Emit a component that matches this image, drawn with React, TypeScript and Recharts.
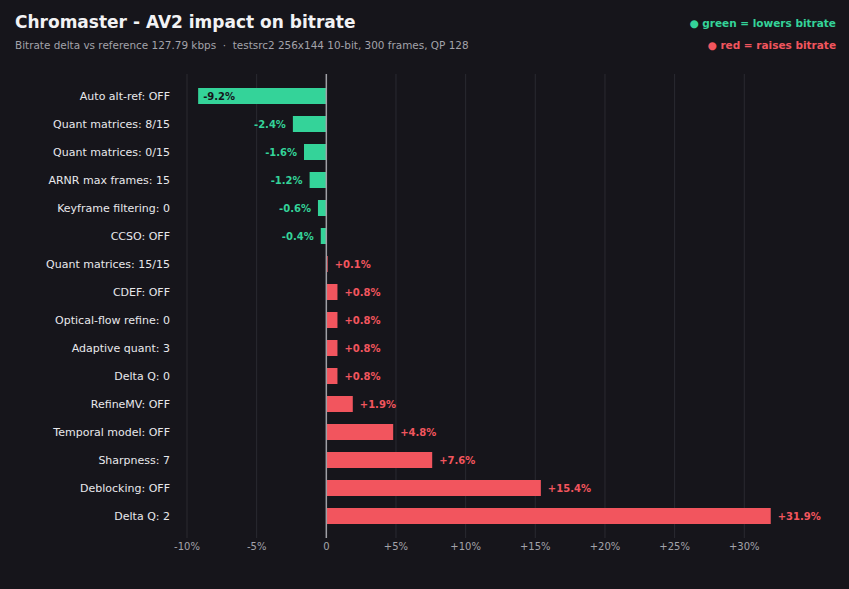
import { BarChart, Bar, XAxis, YAxis, CartesianGrid, ReferenceLine, Cell, LabelList } from "recharts";

const settings = [
  "Auto alt-ref: OFF",
  "Quant matrices: 8/15",
  "Quant matrices: 0/15",
  "ARNR max frames: 15",
  "Keyframe filtering: 0",
  "CCSO: OFF",
  "Quant matrices: 15/15",
  "CDEF: OFF",
  "Optical-flow refine: 0",
  "Adaptive quant: 3",
  "Delta Q: 0",
  "RefineMV: OFF",
  "Temporal model: OFF",
  "Sharpness: 7",
  "Deblocking: OFF",
  "Delta Q: 2",
];
const deltaPct = [-9.2, -2.4, -1.6, -1.2, -0.6, -0.4, 0.1, 0.8, 0.8, 0.8, 0.8, 1.9, 4.8, 7.6, 15.4, 31.9];
const xTicks = [-10, -5, 0, 5, 10, 15, 20, 25, 30];

const BG = "#16151b";
const GREEN = "#34d399";
const RED = "#f2555e";
const FONT = "'DejaVu Sans', sans-serif";

const data = settings.map((name, i) => ({ name, v: deltaPct[i] }));

const fmtTick = (v: number) => (v === 0 ? "0" : v > 0 ? `+${v}%` : `${v}%`);
const fmtVal = (v: number) => (v > 0 ? `+${v.toFixed(1)}%` : `${v.toFixed(1)}%`);

// value label: outside the bar end, except long negative bars get it inside
function ValueLabel(props: any) {
  const { x, y, width, height, value } = props;
  const left = Math.min(x, x + width);
  const right = Math.max(x, x + width);
  const cy = y + height / 2;
  const neg = value < 0;
  const inside = neg && Math.abs(value) > 8;
  let tx = right + 7;
  let anchor: "start" | "end" = "start";
  let fill = neg ? GREEN : RED;
  if (inside) {
    tx = left + 5;
    fill = BG;
  } else if (neg) {
    tx = left - 7;
    anchor = "end";
  }
  return (
    <text x={tx} y={cy} dy="0.35em" textAnchor={anchor} fill={fill}
      fontSize={10} fontWeight="bold" fontFamily={FONT}>
      {fmtVal(value)}
    </text>
  );
}

export default function App() {
  return (
    <div style={{ position: "absolute", left: 0, top: 0, width: 849, height: 589, background: BG, fontFamily: FONT, overflow: "hidden" }}>
      <div style={{ position: "absolute", left: 15, top: 12, fontSize: 17, fontWeight: "bold", color: "#f2f2f4", lineHeight: "20px" }}>
        Chromaster - AV2 impact on bitrate
      </div>
      <div style={{ position: "absolute", left: 15, top: 38, fontSize: 10.45, color: "#a3a3aa", lineHeight: "14px", whiteSpace: "pre" }}>
        {"Bitrate delta vs reference 127.79 kbps  ·  testsrc2 256x144 10-bit, 300 frames, QP 128"}
      </div>
      <div style={{ position: "absolute", right: 13, top: 16, fontSize: 10.5, fontWeight: "bold", color: GREEN, lineHeight: "14px", textAlign: "right" }}>
        ● green = lowers bitrate
      </div>
      <div style={{ position: "absolute", right: 13, top: 38, fontSize: 10.5, fontWeight: "bold", color: RED, lineHeight: "14px", textAlign: "right" }}>
        ● red = raises bitrate
      </div>
      <BarChart
        width={849}
        height={589}
        data={data}
        layout="vertical"
        margin={{ top: 74, right: 49, left: 7, bottom: 31 }}
        style={{ position: "absolute", left: 0, top: 0 }}
      >
        <CartesianGrid
          horizontal={false}
          verticalValues={xTicks.filter((t) => t !== 0)}
          stroke="#2a2a31"
        />
        <XAxis
          type="number"
          domain={[-10, 34]}
          ticks={xTicks}
          tickFormatter={fmtTick}
          axisLine={false}
          tickLine={false}
          tickSize={0}
          tickMargin={5}
          height={20}
          tick={{ fill: "#a3a3aa", fontSize: 10, fontFamily: FONT }}
        />
        <YAxis
          type="category"
          dataKey="name"
          width={180}
          axisLine={false}
          tickLine={false}
          tickSize={0}
          tickMargin={17}
          padding={{ top: 8, bottom: 8 }}
          interval={0}
          tick={{ fill: "#e8e8ec", fontSize: 11, fontFamily: FONT }}
        />
        <Bar dataKey="v" barSize={16} isAnimationActive={false}>
          {data.map((d) => (
            <Cell key={d.name} fill={d.v < 0 ? GREEN : RED} />
          ))}
          <LabelList dataKey="v" content={ValueLabel} />
        </Bar>
        <ReferenceLine x={0} stroke="#a0a0a6" strokeWidth={1.5} />
      </BarChart>
    </div>
  );
}
